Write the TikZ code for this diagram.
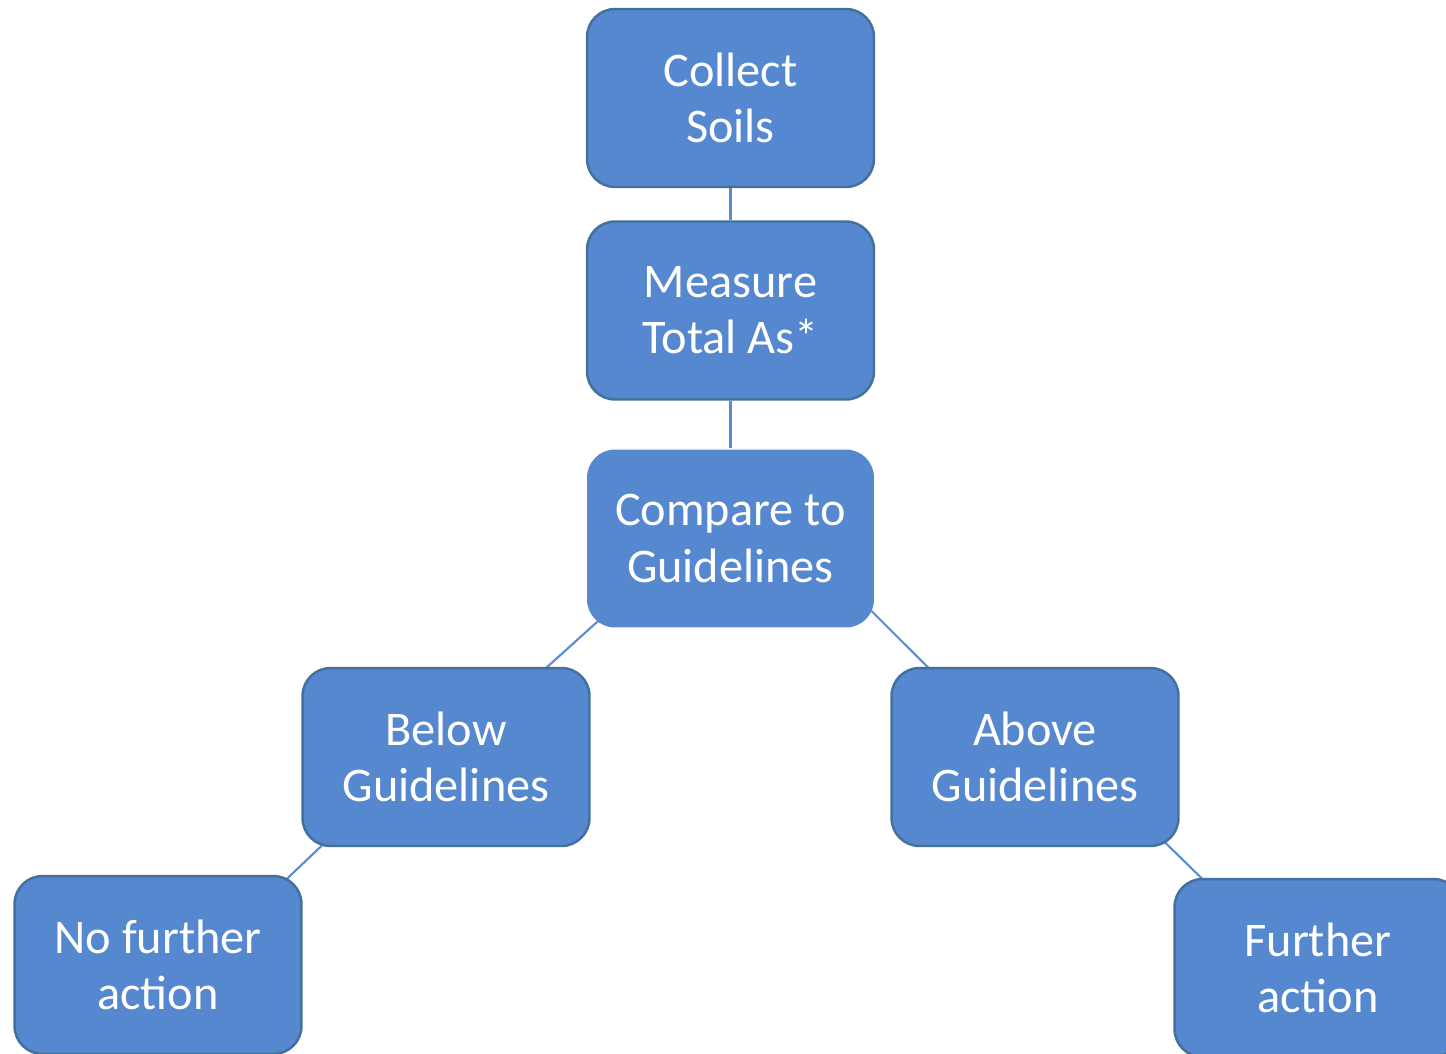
\documentclass[tikz,border=0pt]{standalone}
\usepackage{fontspec}
\setmainfont{Carlito}
\usetikzlibrary{calc,backgrounds}
\definecolor{boxfill}{RGB}{85,136,207}
\definecolor{boxline}{RGB}{65,113,156}
\definecolor{linkline}{RGB}{91,140,210}
\begin{document}
\begin{tikzpicture}[x=0.02cm,y=-0.02cm,
 stepbox/.style={fill=boxfill,draw=boxline,line width=1.4pt,rounded corners=0.56cm,
  minimum width=5.74cm,minimum height=3.56cm,align=center,text=white,
  font=\fontsize{27.5}{32}\selectfont},
 plainbox/.style={stepbox,draw=none},
 link/.style={draw=linkline,line width=1.2pt}]
\useasboundingbox (0,0) rectangle (1446,1054);
\node[stepbox] (col) at (730.5,98) {Collect\\Soils};
\node[stepbox] (mea) at (730.5,310.5) {Measure\\Total As*};
\node[plainbox] (cmp) at (730.5,538.5) {Compare to\\Guidelines};
\node[stepbox] (blw) at (446,757) {Below\\Guidelines};
\node[stepbox] (abv) at (1035,757) {Above\\Guidelines};
\node[stepbox] (nfa) at (158,965) {No further\\action};
\node[stepbox] (fac) at (1318,968) {Further\\action};
\begin{pgfonlayer}{background}
\draw[link] (col.south) -- (mea.north);
\draw[link] (mea.south) -- (cmp.north);
\draw[link] ($(cmp.south west)+(16,-11)$) -- ($(blw.north east)+(-50,6)$);
\draw[link] ($(cmp.south east)+(-8,-22)$) -- ($(abv.north west)+(42,5)$);
\draw[link] ($(blw.south west)+(23,-4)$) -- ($(nfa.north east)+(-20,8)$);
\draw[link] ($(abv.south east)+(-17,-7)$) -- ($(fac.north west)+(34,6)$);
\end{pgfonlayer}
\end{tikzpicture}
\end{document}
